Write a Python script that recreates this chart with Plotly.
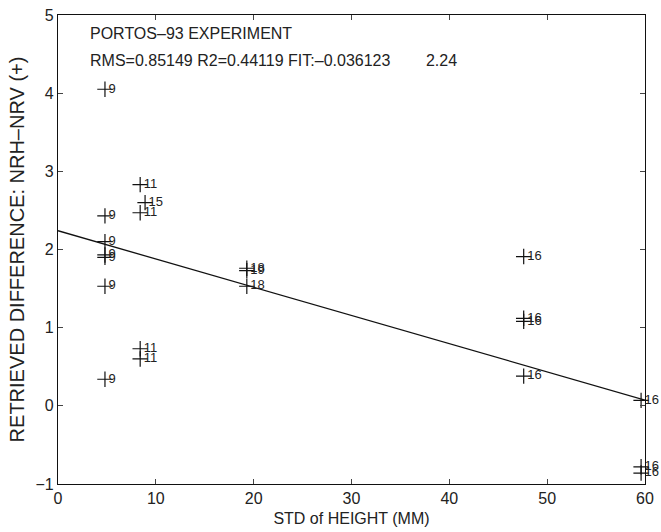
import plotly.graph_objects as go

# data
std_height = [4.8, 4.8, 4.8, 4.8, 4.8, 4.8, 4.8,
              8.4, 8.4, 8.9, 8.4, 8.4,
              19.3, 19.3, 19.3,
              47.6, 47.6, 47.6, 47.6,
              59.6, 59.6, 59.6]
retrieved_diff = [4.05, 2.43, 2.10, 1.93, 1.90, 1.53, 0.34,
                  2.83, 2.47, 2.60, 0.73, 0.60,
                  1.76, 1.73, 1.53,
                  1.91, 1.12, 1.08, 0.38,
                  0.07, -0.78, -0.86]
point_labels = ["9", "9", "9", "9", "9", "9", "9",
                "11", "11", "15", "11", "11",
                "18", "19", "18",
                "16", "16", "16", "16",
                "16", "16", "16"]

fit_slope = -0.036123
fit_intercept = 2.24
fit_x = [0, 60]
fit_y = [fit_intercept + fit_slope * v for v in fit_x]

title_line1 = "PORTOS\u201393 EXPERIMENT"
title_line2 = ("RMS=0.85149 R2=0.44119 FIT:\u20130.036123"
               "&nbsp;&nbsp;&nbsp;&nbsp;&nbsp;&nbsp;&nbsp;&nbsp;2.24")

x_ticks = [0, 10, 20, 30, 40, 50, 60]
y_ticks = [-1, 0, 1, 2, 3, 4, 5]

FONT = "Liberation Sans, Arial, Helvetica, sans-serif"
INK = "#222222"

fig = go.Figure()

fig.add_trace(go.Scatter(
    x=fit_x, y=fit_y, mode="lines",
    line=dict(color="#111111", width=1.3),
    hoverinfo="skip", showlegend=False))

# crosses
fig.add_trace(go.Scatter(
    x=std_height, y=retrieved_diff, mode="markers",
    marker=dict(symbol="cross-thin", size=11,
                line=dict(color="#111111", width=1.2)),
    cliponaxis=False, showlegend=False))

# labels right next to the crosses (tiny invisible marker sets the offset)
fig.add_trace(go.Scatter(
    x=std_height, y=retrieved_diff, mode="markers+text",
    marker=dict(size=4, color="rgba(0,0,0,0)", line=dict(width=0)),
    text=point_labels, textposition="middle right",
    textfont=dict(family=FONT, size=13, color=INK),
    hoverinfo="skip", cliponaxis=False, showlegend=False))

fig.add_annotation(x=0, y=1, xref="paper", yref="paper",
                   xanchor="left", yanchor="middle", xshift=30, yshift=-18,
                   text=title_line1, showarrow=False,
                   font=dict(family=FONT, size=16, color=INK))
fig.add_annotation(x=0, y=1, xref="paper", yref="paper",
                   xanchor="left", yanchor="middle", xshift=30, yshift=-45,
                   text=title_line2, showarrow=False,
                   font=dict(family=FONT, size=16, color=INK))

axis_common = dict(
    showgrid=False, zeroline=False, showline=True,
    linecolor="#111111", linewidth=1.2, mirror="ticks",
    ticks="inside", ticklen=5, tickwidth=1, tickcolor="#444444",
    tickfont=dict(family=FONT, size=16, color=INK),
    ticklabeloverflow="allow",
)

fig.update_xaxes(range=[0, 60], tickvals=x_ticks,
                 ticktext=[str(v) for v in x_ticks],
                 title=dict(text="STD of HEIGHT (MM)", standoff=6,
                            font=dict(family=FONT, size=16, color=INK)),
                 **axis_common)
fig.update_yaxes(range=[-1, 5], tickvals=y_ticks,
                 ticktext=[("\u2212" + str(-v)) if v < 0 else str(v) for v in y_ticks],
                 title=dict(text="RETRIEVED DIFFERENCE: NRH\u2013NRV (+)", standoff=5,
                            font=dict(family=FONT, size=20, color=INK)),
                 **axis_common)

fig.update_layout(
    width=661, height=532,
    margin=dict(l=58, r=7, t=14, b=48),
    paper_bgcolor="white", plot_bgcolor="white",
    font=dict(family=FONT, color=INK),
    showlegend=False,
)

# remove the page's default body margin so the figure sits at the top-left corner
fig.write_html("out.html",
               config={"displayModeBar": False},
               post_script="document.body.style.margin='0px';"
                           "document.body.style.overflow='hidden';")
